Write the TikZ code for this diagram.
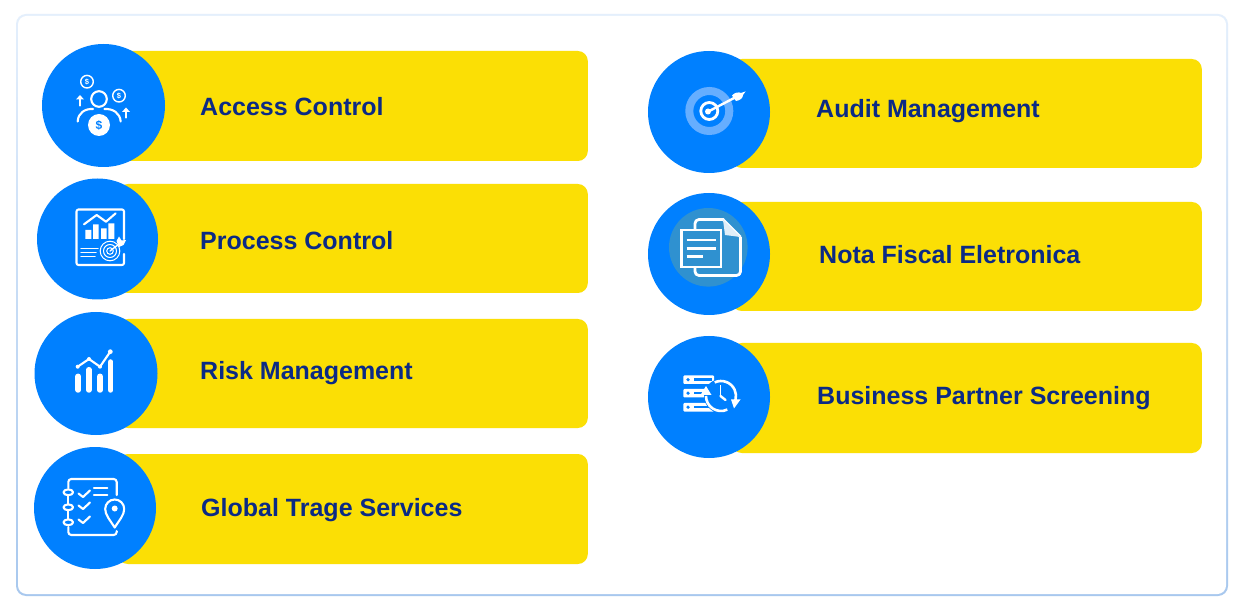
\documentclass[tikz,border=0pt]{standalone}
\usepackage{fontspec}
\setmainfont{Liberation Sans}
\definecolor{cblue}{HTML}{0080FF}
\definecolor{cyellow}{HTML}{FBDF05}
\definecolor{ctext}{HTML}{0B2A85}
\definecolor{cring}{HTML}{66AEFF}
\definecolor{cdoc}{HTML}{2F91D0}
\definecolor{ftop}{HTML}{E4EFFC}
\definecolor{fbot}{HTML}{A8C8EE}
\tikzset{
  bar/.style={rectangle,fill=cyellow,rounded corners=10pt,minimum height=#1,inner sep=0pt,anchor=east,minimum width=470pt},
  disc/.style={circle,fill=cblue,inner sep=0pt,minimum size=#1},
  label/.style={anchor=base west,inner sep=0pt,text=ctext,font=\fontsize{25}{25}\selectfont\bfseries},
  ico/.style={draw=white,line width=2.1pt,line cap=round,line join=round},
  icot/.style={draw=white,line width=1.4pt,line cap=round,line join=round},
}
\begin{document}
\begin{tikzpicture}[x=1pt,y=-1pt]
\useasboundingbox (0,0) rectangle (1243,612);
\fill[white] (0,0) rectangle (1243,612);
\shade[top color=ftop,bottom color=fbot,rounded corners=10pt] (16,14) rectangle (1228,596);
\fill[white,rounded corners=8.5pt] (18,16) rectangle (1226,594);

% yellow bars
\node[bar=110pt] (b1) at (588,106) {};
\node[bar=109pt] (b2) at (588,238.5) {};
\node[bar=109pt] (b3) at (588,373.5) {};
\node[bar=110pt] (b4) at (588,509) {};
\node[bar=109pt] (b5) at (1202,113.5) {};
\node[bar=109pt] (b6) at (1202,256.5) {};
\node[bar=110pt] (b7) at (1202,398) {};

% blue discs
\node[disc=123pt] (c1) at (103.5,105.5) {};
\node[disc=121pt] (c2) at (97.5,239) {};
\node[disc=123pt] (c3) at (96,373.5) {};
\node[disc=122pt] (c4) at (95,508) {};
\node[disc=122pt] (c5) at (709,112) {};
\node[disc=122pt] (c6) at (709,254) {};
\node[disc=122pt] (c7) at (709,397) {};

% labels
\node[label] (t1) at (200,115.5) {Access Control};
\node[label] (t2) at (200,249.5) {Process Control};
\node[label] (t3) at (200,379.5) {Risk Management};
\node[label] (t4) at (201,516.5) {Global Trage Services};
\node[label] (t5) at (816,117.5) {Audit Management};
\node[label] (t6) at (819,263.5) {Nota Fiscal Eletronica};
\node[label] (t7) at (817,404.5) {Business Partner Screening};

% icon 1: people and coins
\draw[icot] (87,81.7) circle (6.3);
\draw[icot] (119,95.7) circle (6.3);
\node[text=white,font=\fontsize{7.5}{7.5}\selectfont\bfseries,inner sep=0pt] (s1) at (87,81.7) {\$};
\node[text=white,font=\fontsize{7.5}{7.5}\selectfont\bfseries,inner sep=0pt] (s2) at (119,95.7) {\$};
\draw[ico] (99,99) circle (7.8);
\draw[ico] (77.7,121.5) .. controls (78,113) and (85,108.5) .. (93,109);
\draw[ico] (104.5,109) .. controls (113,108.5) and (120,113) .. (120.7,121.5);
\fill[white] (99,125) circle (11);
\node[text=cblue,font=\fontsize{12}{12}\selectfont\bfseries,inner sep=0pt] (s3) at (99,125) {\$};
\draw[ico] (80,105.5) -- (80,98);
\fill[white] (76,99.5) -- (80,95) -- (84,99.5) -- cycle;
\draw[ico] (126,117.5) -- (126,111);
\fill[white] (122,112) -- (126,107.5) -- (130,112) -- cycle;

% icon 2: report with target
\draw[ico,rounded corners=2pt] (124,239) -- (124,209.5) -- (76.5,209.5) -- (76.5,265) -- (124,265) -- (124,254);
\draw[ico] (84,224.3) -- (96.7,215) -- (106,221.7) -- (115.7,213.3);
\fill[white] (85.3,230) rectangle (91.3,239) (93,224.3) rectangle (98.7,239) (101,228.3) rectangle (106.7,239) (108.3,223.3) rectangle (114.3,239);
\draw[icot,line width=1.5pt] (81,248.3) -- (98,248.3) (81,252.7) -- (96,252.7) (81,256.7) -- (95,256.7);
\draw[icot,line width=1pt] (110,251) circle (9.8) (110,251) circle (6.5) (110,251) circle (3.3);
\draw[icot] (110,251) -- (119,244);
\fill[white] (116.5,241) -- (119,236.5) -- (121.5,240.5) -- (126,240) -- (123.5,245) -- (119,247) -- cycle;

% icon 3: chart
\foreach \x/\t in {78.2/374.3,88.8/367.7,100/374.3,110.7/360}
  \draw[line width=5.5pt,draw=white,line cap=round] (\x,\t+2) -- (\x,390);
\draw[ico] (77.7,366.7) -- (89,359) -- (100,366.7) -- (110.3,351.7);
\fill[white] (77.7,366.7) circle (2) (89,359) circle (2) (100,366.7) circle (2) (110.3,351.7) circle (2.4);

% icon 4: checklist with pin
\draw[ico,rounded corners=3pt] (68.3,488) -- (68.3,479) -- (116.7,479) -- (116.7,495);
\draw[ico,rounded corners=3pt] (68.3,527) -- (68.3,535) -- (116.7,535) -- (116.7,531);
\foreach \y in {492.3,507.3,522.3} \draw[ico,fill=cblue] (68.3,\y) ellipse (4.8 and 2.9);
\draw[ico] (68.3,496) -- (68.3,503.5) (68.3,511) -- (68.3,518.5);
\foreach \y in {496.5,508.5,522.5}
  \draw[ico] (78.5,\y-3) -- (83,\y+.5) -- (90,\y-6);
\draw[ico] (94,487.7) -- (107.3,487.7) (94,495) -- (107.3,495);
\draw[ico,fill=cblue] (114.7,527.5) .. controls (110,520) and (105.2,515) .. (105.2,509) arc[start angle=180,end angle=360,radius=9.5] .. controls (124.2,515) and (119.4,520) .. cycle;
\fill[white] (114.7,508.5) circle (3);

% icon 5: target with dart
\draw[cring,line width=8pt] (709.3,111) circle (20);
\draw[white,line width=2.8pt] (709.3,111) circle (8.5);
\fill[white] (708,111.5) circle (3);
\draw[ico,line width=2.4pt] (709.3,111) -- (736,97);
\fill[white] (732,95.5) .. controls (735,92) and (739,92) .. (741,93) -- (745.5,91.5) -- (743,95) .. controls (743,98) and (740,100.5) .. (736,101) -- cycle;

% icon 6: documents
\fill[cdoc] (708.3,247.3) circle (39.3);
\draw[white,line width=2.8pt,line join=round,rounded corners=4pt] (695,232) -- (695,219.5) -- (724,219.5);
\draw[white,line width=2.8pt,line join=round] (723,219.5) -- (740.5,237);
\draw[white,line width=2.8pt,line join=round,rounded corners=4pt] (740.5,237) -- (740.5,275.5) -- (695,275.5) -- (695,266);
\fill[white!85!cdoc] (723,219.5) -- (725,235) -- (740.5,237) -- cycle;
\draw[white,line width=2.8pt,fill=cdoc] (681.5,230) rectangle (721,267);
\draw[white,line width=2.6pt] (686.7,240) -- (716,240) (686.7,248.3) -- (716,248.3) (686.7,256.7) -- (703.3,256.7);

% icon 7: server with clock
\foreach \y in {375.5,389,403}{
  \fill[white,rounded corners=1pt] (683.3,\y) rectangle (714,\y+8.5);
  \fill[cblue] (688,\y+4.2) circle (1.8);
  \fill[cblue] (694,\y+3) rectangle (712,\y+5.5);
}
\fill[cblue] (721,396) circle (17);
\draw[white,line width=2.6pt] (721,396) ++(-115:15) arc[start angle=-115,end angle=15,radius=15];
\draw[white,line width=2.6pt] (721,396) ++(65:15) arc[start angle=65,end angle=180,radius=15];
\fill[white] (700.5,395) -- (706,386) -- (711.5,395) -- cycle;
\fill[white] (731,399.5) -- (740.5,399.5) -- (734,408.5) -- cycle;
\draw[white,line width=1.8pt] (720.5,385.5) -- (720.5,396);
\draw[white,line width=2.4pt,line cap=round] (720.5,396) -- (725.5,400);
\end{tikzpicture}
\end{document}
